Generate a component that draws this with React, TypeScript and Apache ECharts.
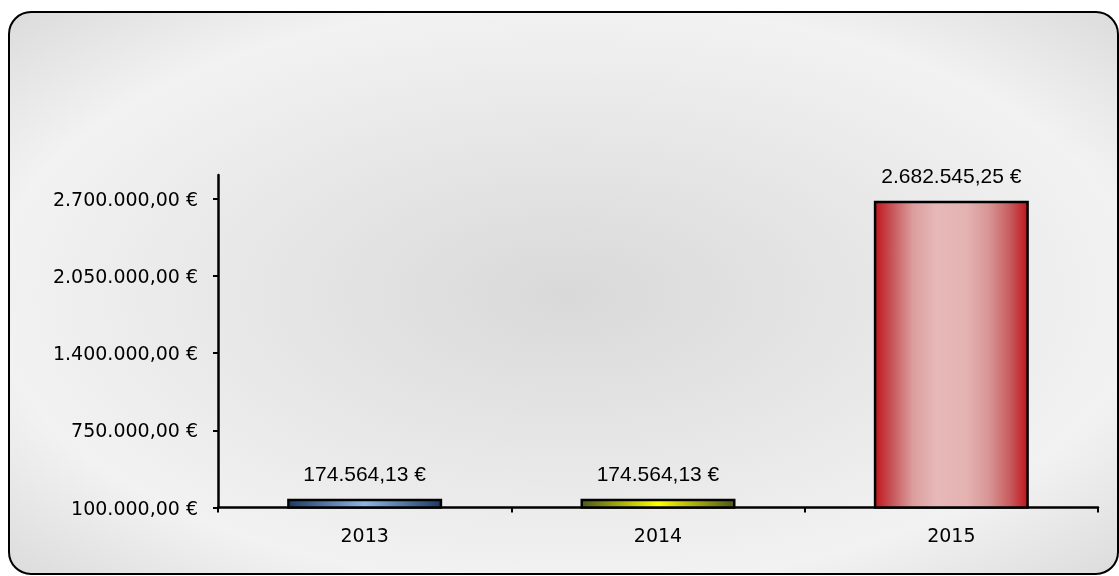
import React, { useEffect, useRef } from "react";
import * as echarts from "echarts";

const categories = ["2013", "2014", "2015"];
const values = [174564.13, 174564.13, 2682545.25];
const yTicks = [100000, 750000, 1400000, 2050000, 2700000];
const yMin = 100000;
const yMax = 2900000;

const barGradients = [
  ["#1f3a62", "#8db6e6", "#1f3a62"],
  ["#4d581c", "#ffff00", "#4d581c"],
];

function fmt(v: number): string {
  const [ip, dp] = v.toFixed(2).split(".");
  const withDots = ip.replace(/\B(?=(\d{3})+(?!\d))/g, ".");
  return withDots + "," + dp + " €";
}

function lin(stops: [number, string][]) {
  return new echarts.graphic.LinearGradient(
    0,
    0,
    1,
    0,
    stops.map(([offset, color]) => ({ offset, color }))
  );
}

export default function App() {
  const ref = useRef<HTMLDivElement>(null);
  useEffect(() => {
    if (!ref.current) return;
    const chart = echarts.init(ref.current, undefined, { renderer: "svg" });
    const colors = [
      lin([
        [0, barGradients[0][0]],
        [0.5, barGradients[0][1]],
        [1, barGradients[0][2]],
      ]),
      lin([
        [0, barGradients[1][0]],
        [0.5, barGradients[1][1]],
        [1, barGradients[1][2]],
      ]),
      lin([
        [0, "#c0161c"],
        [0.12, "#c85a5e"],
        [0.25, "#dc9e9e"],
        [0.4, "#e6b8b7"],
        [0.6, "#e4b3b2"],
        [0.75, "#d89494"],
        [0.88, "#c85e60"],
        [1, "#c0161c"],
      ]),
    ];
    chart.setOption({
      animation: false,
      graphic: [
        {
          type: "rect",
          z: -100,
          silent: true,
          shape: { x: 9, y: 12, width: 1109, height: 562, r: 22 },
          style: {
            fill: new echarts.graphic.RadialGradient(0.503, 0.503, 0.72, [
              { offset: 0, color: "#d9d9d9" },
              { offset: 0.72, color: "#f2f2f2" },
              { offset: 1, color: "#dadada" },
            ]),
            stroke: "#000",
            lineWidth: 2,
          },
        },
      ],
      grid: { left: 218, right: 21, top: 175, bottom: 68.5, containLabel: false },
      xAxis: {
        type: "category",
        data: categories,
        boundaryGap: true,
        axisLine: { show: true, lineStyle: { color: "#000", width: 2.5 } },
        axisTick: {
          show: true,
          alignWithLabel: false,
          length: 5,
          lineStyle: { color: "#000", width: 2 },
        },
        axisLabel: {
          color: "#000",
          fontFamily: "DejaVu Sans",
          fontSize: 19,
          margin: 18,
        },
        splitLine: { show: false },
      },
      yAxis: {
        type: "value",
        min: yMin,
        max: yMax,
        axisLine: { show: true, lineStyle: { color: "#000", width: 2.5 } },
        axisTick: {
          show: true,
          length: 5,
          customValues: yTicks,
          lineStyle: { color: "#000", width: 2 },
        },
        axisLabel: {
          color: "#000",
          fontFamily: "DejaVu Sans",
          fontSize: 19,
          margin: 20,
          customValues: yTicks,
          formatter: (v: number) => fmt(v),
        },
        splitLine: { show: false },
      },
      series: [
        {
          type: "bar",
          barWidth: 155,
          data: values.map((v, i) => ({
            value: v,
            itemStyle: { color: colors[i], borderColor: "#000", borderWidth: 2.5 },
          })),
          label: {
            show: true,
            position: "top",
            distance: 15,
            color: "#000",
            fontFamily: "Liberation Sans",
            fontSize: 21,
            formatter: (p: any) => fmt(p.value),
          },
        },
      ],
    });
    return () => chart.dispose();
  }, []);
  return (
    <div
      ref={ref}
      style={{ position: "fixed", left: 0, top: 0, width: 1119, height: 576 }}
    />
  );
}
